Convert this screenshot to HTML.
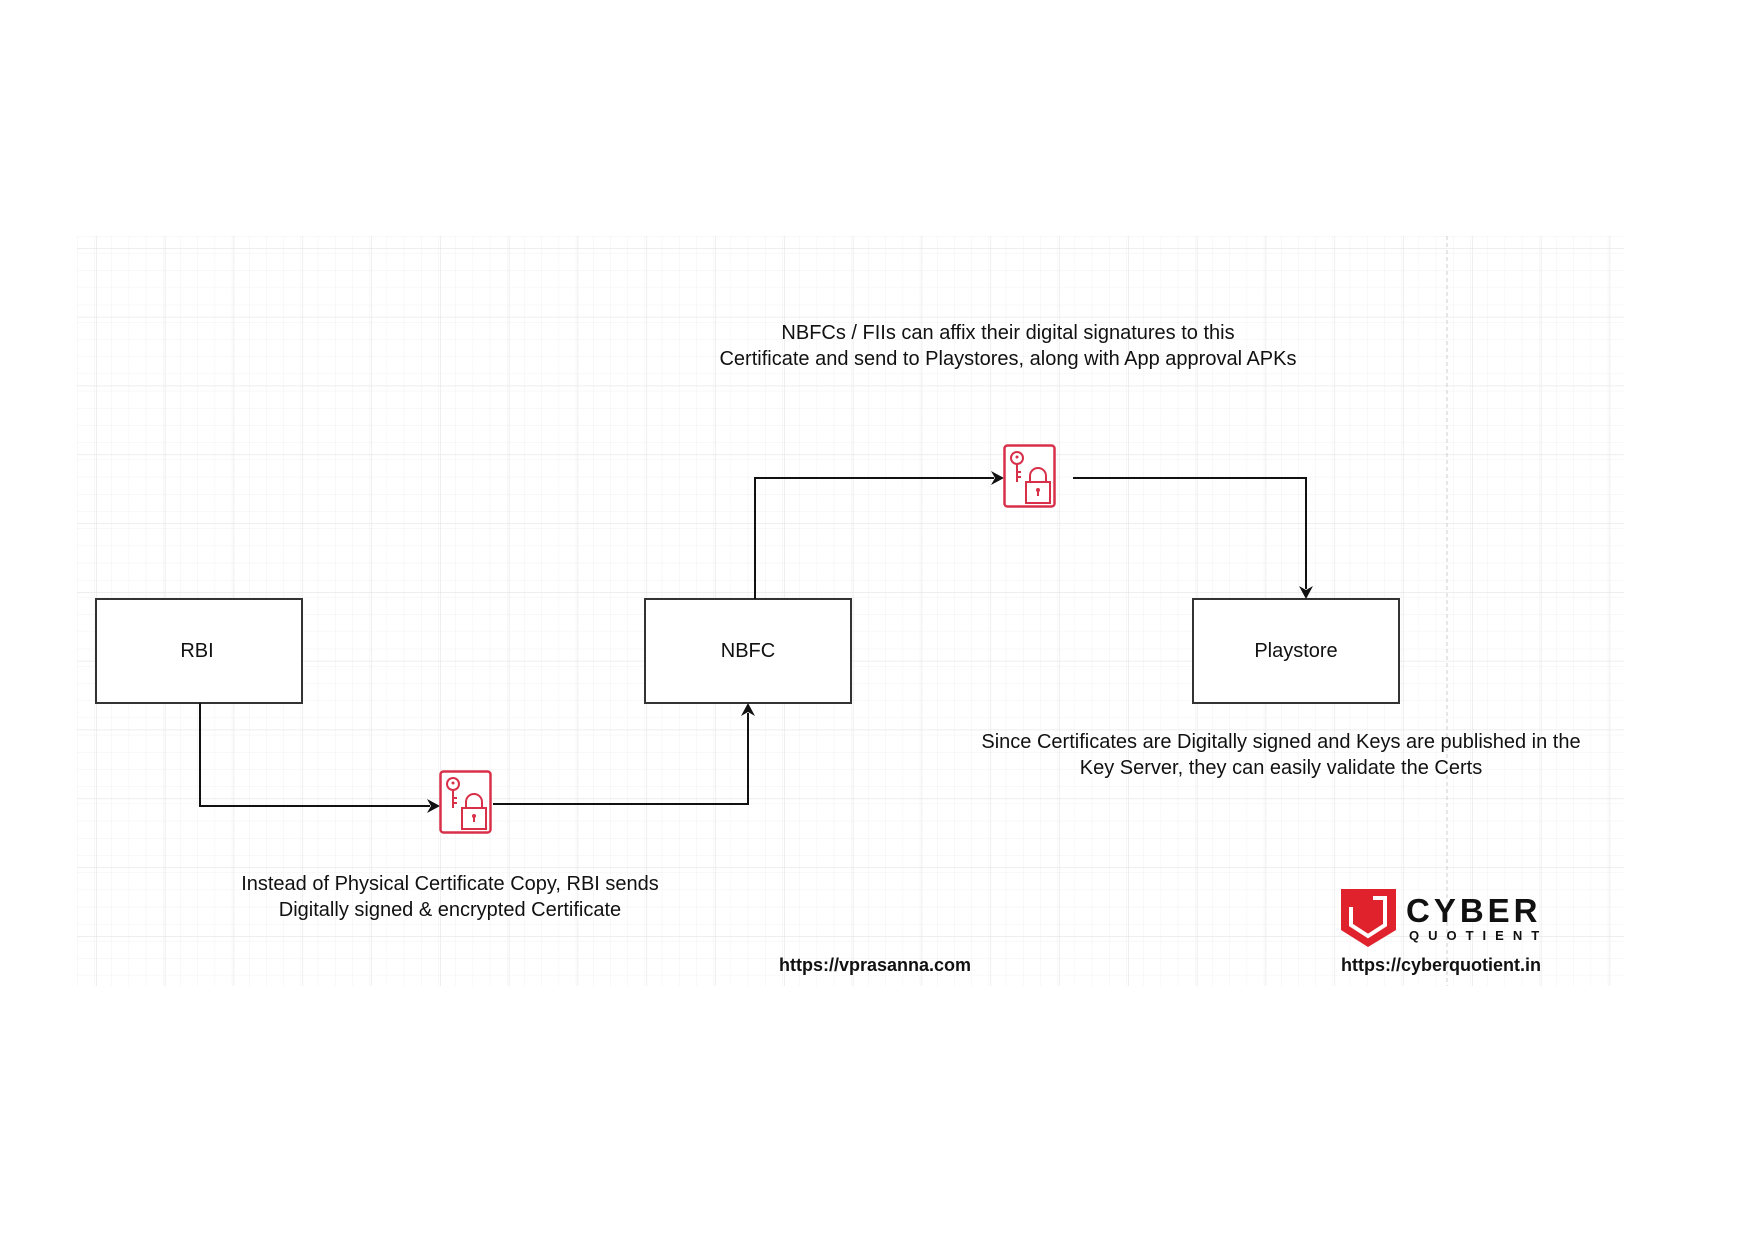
<!DOCTYPE html>
<html><head><meta charset="utf-8"><style>
html,body{margin:0;padding:0;background:#fff;}
svg{display:block;}
</style></head><body>
<svg width="1748" height="1240" viewBox="0 0 1748 1240" xmlns="http://www.w3.org/2000/svg">
<defs>
<pattern id="minor" x="77" y="236" width="17.2" height="17.2" patternUnits="userSpaceOnUse">
<path d="M0 0H17.2M0 0V17.2" stroke="#f2f2f2" stroke-width="1" fill="none"/>
</pattern>
<pattern id="major" x="96" y="248" width="68.8" height="68.8" patternUnits="userSpaceOnUse">
<path d="M0 0H68.8M0 0V68.8" stroke="#e4e4e4" stroke-width="1.2" fill="none"/>
</pattern>
<g id="icon">
<rect x="1.5" y="1.5" width="50" height="61" rx="3" fill="#fff" stroke="#d9304a" stroke-width="2.5"/>
<circle cx="14" cy="14" r="6" fill="none" stroke="#d9304a" stroke-width="2"/>
<circle cx="14" cy="13" r="1.5" fill="#d9304a"/>
<path d="M14 20V38M14 28h4M14 33h4" stroke="#d9304a" stroke-width="2" fill="none"/>
<rect x="23" y="38" width="24" height="21" fill="none" stroke="#d9304a" stroke-width="2"/>
<path d="M27 38v-6a8 8 0 0 1 16 0v6" fill="none" stroke="#d9304a" stroke-width="2"/>
<circle cx="35" cy="46" r="2" fill="#d9304a"/>
<path d="M35 47v5" stroke="#d9304a" stroke-width="2"/>
</g>
</defs>
<rect x="77" y="236" width="1547" height="750" fill="url(#minor)"/>
<rect x="77" y="236" width="1547" height="750" fill="url(#major)"/>
<line x1="1447" y1="236" x2="1447" y2="986" stroke="#cfcfcf" stroke-dasharray="4 3"/>

<g font-family="Liberation Sans, sans-serif" font-size="20" fill="#111" text-anchor="middle">
<rect x="96" y="599" width="206" height="104" fill="#fff" stroke="#333" stroke-width="2"/>
<text x="197" y="657">RBI</text>
<rect x="645" y="599" width="206" height="104" fill="#fff" stroke="#333" stroke-width="2"/>
<text x="748" y="657">NBFC</text>
<rect x="1193" y="599" width="206" height="104" fill="#fff" stroke="#333" stroke-width="2"/>
<text x="1296" y="657">Playstore</text>

<text x="1008" y="339">NBFCs / FIIs can affix their digital signatures to this</text>
<text x="1008" y="365">Certificate and send to Playstores, along with App approval APKs</text>
<text x="1281" y="748">Since Certificates are Digitally signed and Keys are published in the</text>
<text x="1281" y="774">Key Server, they can easily validate the Certs</text>
<text x="450" y="890">Instead of Physical Certificate Copy, RBI sends</text>
<text x="450" y="916">Digitally signed &amp; encrypted Certificate</text>
</g>

<g stroke="#111" stroke-width="2" fill="none">
<path d="M200 703V806H430"/>
<path d="M493 804H748V713"/>
<path d="M755 599V478H994"/>
<path d="M1073 478H1306V589"/>
</g>
<g fill="#111">
<path d="M440 806l-13-7 4 7-4 7z"/>
<path d="M748 703l-7 13 7-4 7 4z"/>
<path d="M1004 478l-13-7 4 7-4 7z"/>
<path d="M1306 599l-7-13 7 4 7-4z"/>
</g>

<use href="#icon" x="439" y="770"/>
<use href="#icon" x="1003" y="444"/>

<g font-family="Liberation Sans, sans-serif" font-weight="bold" fill="#111">
<text x="875" y="971" font-size="18" text-anchor="middle">https://vprasanna.com</text>
<text x="1441" y="971" font-size="18" text-anchor="middle">https://cyberquotient.in</text>
<text x="1406" y="922" font-size="33" letter-spacing="4">CYBER</text>
<text x="1409" y="940" font-size="13" letter-spacing="9">QUOTIENT</text>
</g>
<path d="M1341 889H1396V930L1368 947L1341 930Z" fill="#e0222d"/>
<path d="M1351 898H1385V925L1368 936L1351 925Z" fill="none" stroke="#fff" stroke-width="4"/>
<rect x="1347" y="893" width="26" height="14" fill="#e0222d"/>
</svg>
</body></html>
